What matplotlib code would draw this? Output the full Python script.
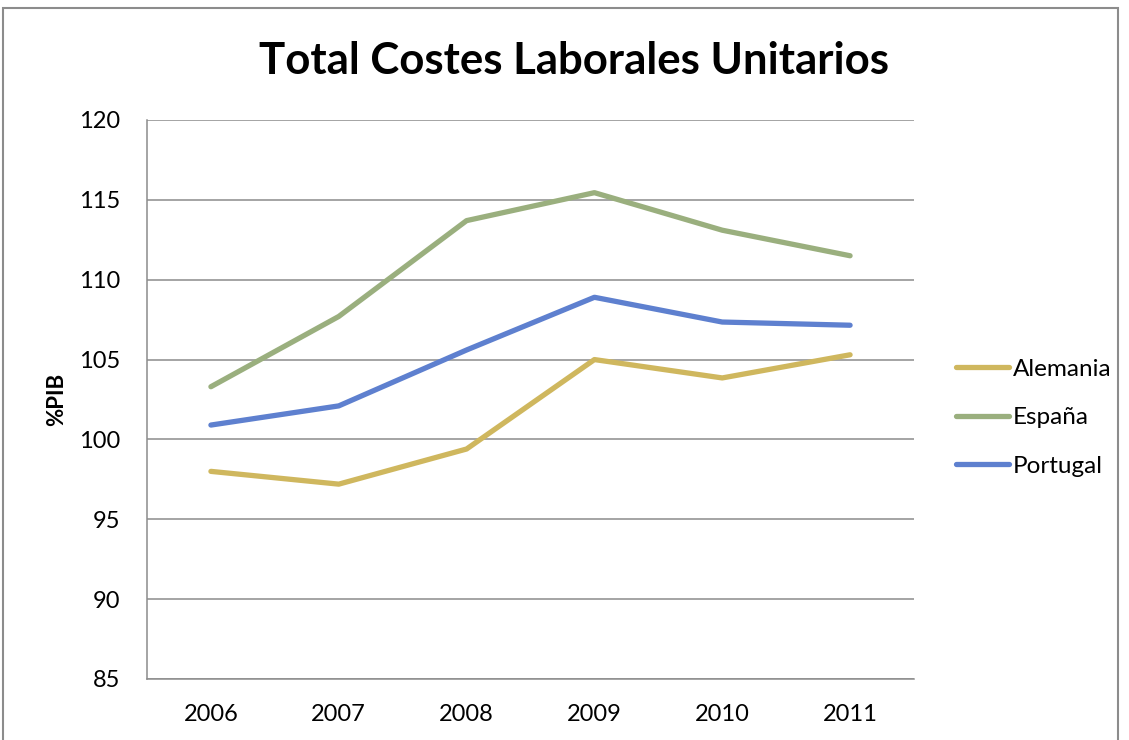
import matplotlib
matplotlib.use("Agg")
import matplotlib.pyplot as plt
from matplotlib.patches import Rectangle

# Costes laborales unitarios por país (índice)
anios = ["2006", "2007", "2008", "2009", "2010", "2011"]
alemania = [98.0, 97.2, 99.4, 105.0, 103.85, 105.3]
espana = [103.3, 107.7, 113.7, 115.45, 113.1, 111.5]
portugal = [100.9, 102.1, 105.6, 108.9, 107.35, 107.15]

series = [
    ("Alemania", alemania, "#CFB75E"),
    ("España", espana, "#9AAF7E"),
    ("Portugal", portugal, "#5E80CF"),
]

plt.rcParams["font.family"] = ["Lato", "DejaVu Sans"]

fig = plt.figure(figsize=(11.29, 7.40), dpi=100)
ax = fig.add_axes([147 / 1129, 61 / 740, 767 / 1129, 559 / 740])

x = range(len(anios))
for nombre, valores, color in series:
    ax.plot(x, valores, color=color, linewidth=3.8, solid_capstyle="round",
            solid_joinstyle="round", label=nombre)

ax.set_xlim(-0.5, len(anios) - 0.5)
ax.set_ylim(85, 120)
ax.set_yticks(range(85, 121, 5))
ax.set_xticks(list(x))
ax.set_xticklabels(anios)

ax.grid(axis="y", color="#8c8c8c", linewidth=1.1)
ax.set_axisbelow(True)
for lado in ["top", "right"]:
    ax.spines[lado].set_visible(False)
for lado in ["left", "bottom"]:
    ax.spines[lado].set_color("#8c8c8c")
    ax.spines[lado].set_linewidth(1.1)

ax.tick_params(axis="both", length=0, labelsize=17)
ax.tick_params(axis="y", pad=19)
ax.tick_params(axis="x", pad=18)

ax.set_ylabel("%PIB", fontsize=16, fontweight="bold", labelpad=9)

fig.text(0.508, 0.918, "Total Costes Laborales Unitarios", ha="center",
         va="center", fontsize=31.5, fontweight="bold")

ax.legend(loc="center left", bbox_to_anchor=(1.026, 0.467), frameon=False,
          fontsize=17.5, handlelength=2.2, handletextpad=0.15, labelspacing=1.13)

# marco exterior del gráfico
fig.patches.append(Rectangle((3 / 1129, -0.05), 1115 / 1129, 1.05 - 8 / 740,
                             transform=fig.transFigure, fill=False,
                             edgecolor="#8c8c8c", linewidth=1.5))

fig.savefig("out.png", dpi=100)
